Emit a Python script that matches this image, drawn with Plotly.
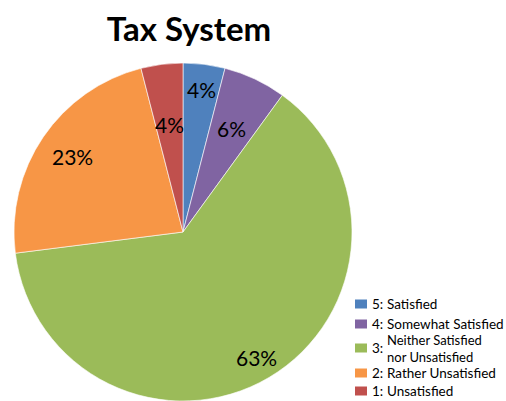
import math
import plotly.graph_objects as go

# Survey results for satisfaction with the tax system
codes = ["5:", "4:", "3:", "2:", "1:"]
names = ["Satisfied", "Somewhat Satisfied", "Neither Satisfied<br>nor Unsatisfied",
         "Rather Unsatisfied", "Unsatisfied"]
values = [4, 6, 63, 23, 4]
colors = ["#4F81BD", "#8064A2", "#9BBB59", "#F79646", "#C0504D"]
# radial placement of each percentage label (fraction of radius)
label_radius = [0.85, 0.68, 0.86, 0.79, 0.64]

W, H = 506, 401
cx, cy, r = 183, 232, 169
FONT = "Lato"

fig = go.Figure(go.Pie(
    labels=[f"{c} {n.replace('<br>', ' ')}" for c, n in zip(codes, names)], values=values,
    sort=False, direction="clockwise", rotation=0,
    marker=dict(colors=colors, line=dict(color="white", width=0.6)),
    textinfo="none", hoverinfo="label+percent", showlegend=False,
    domain=dict(x=[(cx - r) / W, (cx + r) / W], y=[(H - cy - r) / H, (H - cy + r) / H]),
))

# percentage labels placed at each slice's mid-angle
total = sum(values)
start = 0.0
for v, f in zip(values, label_radius):
    mid = math.radians((start + v / 2) / total * 360)
    start += v
    px = cx + f * r * math.sin(mid)
    py = cy - f * r * math.cos(mid)
    fig.add_annotation(x=px / W, y=1 - py / H, xref="paper", yref="paper",
                       text=f"{round(v / total * 100)}%", showarrow=False,
                       xanchor="center", yanchor="middle",
                       font=dict(family=FONT, size=21, color="black"))

# legend: colour key on the lower right
key_y = [304, 324, 348, 373, 391]
for code, name, col, yk in zip(codes, names, colors, key_y):
    fig.add_shape(type="rect", xref="paper", yref="paper",
                  x0=355 / W, x1=367 / W, y0=1 - (yk + 4.5) / H, y1=1 - (yk - 4.5) / H,
                  fillcolor=col, line=dict(width=0))
    fig.add_annotation(x=371 / W, y=1 - yk / H, xref="paper", yref="paper",
                       text=code, showarrow=False, xanchor="left", yanchor="middle",
                       borderpad=0, font=dict(family=FONT, size=13.5, color="black"))
    fig.add_annotation(x=386 / W, y=1 - yk / H, xref="paper", yref="paper",
                       text=name, showarrow=False, xanchor="left", yanchor="middle",
                       align="left", borderpad=0,
                       font=dict(family=FONT, size=13 if "<br>" in name else 13.5, color="black"))

fig.update_layout(
    width=W, height=H,
    margin=dict(l=0, r=0, t=0, b=0),
    paper_bgcolor="white",
    title=dict(text="<b>Tax System</b>", x=189 / W, xanchor="center", y=1 - 29 / H, yanchor="middle",
               font=dict(family=FONT, size=33, color="black")),
)

fig.write_html("out.html")
